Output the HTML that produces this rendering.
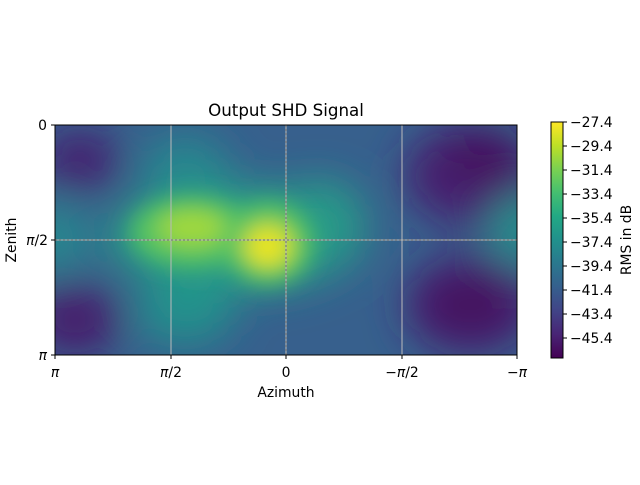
<!DOCTYPE html>
<html><head><style>
body{margin:0;background:#fff;}
svg text{font-family:"DejaVu Sans","Liberation Sans",sans-serif;font-size:13.9px;fill:#000;}
</style></head><body>
<svg width="640" height="480" viewBox="0 0 640 480" xmlns="http://www.w3.org/2000/svg">
<defs>
<clipPath id="c"><rect x="55" y="125" width="462" height="230"/></clipPath>
<filter id="b" x="-50%" y="-50%" width="200%" height="200%"><feGaussianBlur stdDeviation="20"/></filter>
<filter id="b2" x="-50%" y="-50%" width="200%" height="200%"><feGaussianBlur stdDeviation="11"/></filter>
<linearGradient id="vir" x1="0" y1="1" x2="0" y2="0">
<stop offset="0" stop-color="#440154"/><stop offset="0.1" stop-color="#482475"/><stop offset="0.2" stop-color="#414487"/><stop offset="0.3" stop-color="#355f8d"/><stop offset="0.4" stop-color="#2a788e"/><stop offset="0.5" stop-color="#21918c"/><stop offset="0.6" stop-color="#22a884"/><stop offset="0.7" stop-color="#44bf70"/><stop offset="0.8" stop-color="#7ad151"/><stop offset="0.9" stop-color="#bddf26"/><stop offset="1" stop-color="#fde725"/>
</linearGradient>
</defs>
<text x="286" y="116" text-anchor="middle" style="font-size:16.7px">Output SHD Signal</text>
<g clip-path="url(#c)">
<rect x="30" y="100" width="520" height="280" fill="#37608d"/>
<g filter="url(#b)">
<ellipse cx="80" cy="160" rx="40" ry="30" fill="#45236f"/>
<ellipse cx="75" cy="320" rx="45" ry="35" fill="#461a6c"/>
<ellipse cx="470" cy="175" rx="65" ry="50" fill="#462070"/>
<ellipse cx="485" cy="155" rx="40" ry="25" fill="#440a5c"/>
<ellipse cx="470" cy="305" rx="65" ry="50" fill="#462070"/>
<ellipse cx="470" cy="305" rx="40" ry="25" fill="#440a5c"/>
<ellipse cx="185" cy="170" rx="45" ry="35" fill="#26878e"/>
<ellipse cx="185" cy="310" rx="50" ry="35" fill="#23908c"/>
<ellipse cx="55" cy="238" rx="35" ry="35" fill="#25888e"/>
<ellipse cx="520" cy="230" rx="30" ry="35" fill="#22918c"/>
<ellipse cx="320" cy="225" rx="45" ry="45" fill="#27a088"/>
<ellipse cx="235" cy="238" rx="130" ry="55" fill="#279a88"/>
</g>
<g filter="url(#b2)">
<ellipse cx="192" cy="232" rx="62" ry="36" fill="#55c262"/>
<ellipse cx="192" cy="228" rx="34" ry="19" fill="#9fd83c"/>
<ellipse cx="268" cy="243" rx="46" ry="42" fill="#55c262"/>
<ellipse cx="268" cy="246" rx="26" ry="24" fill="#cde028"/>
<ellipse cx="267" cy="247" rx="13" ry="12" fill="#f6e620"/>
</g>
<line x1="171" y1="125" x2="171" y2="355" stroke="#bbb" stroke-width="1"/>
<line x1="402" y1="125" x2="402" y2="355" stroke="#bbb" stroke-width="1"/>
<line x1="55" y1="240" x2="517" y2="240" stroke="#bbb" stroke-width="1"/>
<line x1="55" y1="240" x2="517" y2="240" stroke="#888" stroke-width="1.5" stroke-dasharray="2,2"/>
<line x1="286" y1="125" x2="286" y2="355" stroke="#bbb" stroke-width="1"/>
<line x1="286" y1="125" x2="286" y2="355" stroke="#888" stroke-width="1.5" stroke-dasharray="2,2"/>
</g>
<rect x="55" y="125" width="462" height="230" fill="none" stroke="#000" stroke-width="1"/>
<g stroke="#000">
<line x1="55" y1="355" x2="55" y2="359"/><line x1="171" y1="355" x2="171" y2="359"/><line x1="286" y1="355" x2="286" y2="359"/><line x1="402" y1="355" x2="402" y2="359"/><line x1="517" y1="355" x2="517" y2="359"/>
<line x1="51" y1="125" x2="55" y2="125"/><line x1="51" y1="240" x2="55" y2="240"/><line x1="51" y1="355" x2="55" y2="355"/>
</g>
<g text-anchor="middle">
<text x="55" y="377" style="font-style:italic">π</text>
<text x="171" y="377"><tspan style="font-style:italic">π</tspan>/2</text>
<text x="286" y="377">0</text>
<text x="402" y="377">−<tspan style="font-style:italic">π</tspan>/2</text>
<text x="517" y="377">−<tspan style="font-style:italic">π</tspan></text>
<text x="286" y="397">Azimuth</text>
</g>
<g text-anchor="end">
<text x="47" y="130">0</text>
<text x="48" y="245"><tspan style="font-style:italic">π</tspan>/2</text>
<text x="47" y="360" style="font-style:italic">π</text>
</g>
<text transform="translate(16,240) rotate(-90)" text-anchor="middle">Zenith</text>
<rect x="551" y="122" width="12" height="236" fill="url(#vir)" stroke="#000" stroke-width="1"/>
<g stroke="#000">
<line x1="563" y1="122" x2="567" y2="122"/><line x1="563" y1="146" x2="567" y2="146"/><line x1="563" y1="170" x2="567" y2="170"/><line x1="563" y1="194" x2="567" y2="194"/><line x1="563" y1="218" x2="567" y2="218"/><line x1="563" y1="242" x2="567" y2="242"/><line x1="563" y1="266" x2="567" y2="266"/><line x1="563" y1="290" x2="567" y2="290"/><line x1="563" y1="314" x2="567" y2="314"/><line x1="563" y1="338" x2="567" y2="338"/>
</g>
<g>
<text x="570" y="127">−27.4</text><text x="570" y="151">−29.4</text><text x="570" y="175">−31.4</text><text x="570" y="199">−33.4</text><text x="570" y="223">−35.4</text><text x="570" y="247">−37.4</text><text x="570" y="271">−39.4</text><text x="570" y="295">−41.4</text><text x="570" y="319">−43.4</text><text x="570" y="343">−45.4</text>
</g>
<text transform="translate(631,240) rotate(-90)" text-anchor="middle">RMS in dB</text>
</svg>
</body></html>
